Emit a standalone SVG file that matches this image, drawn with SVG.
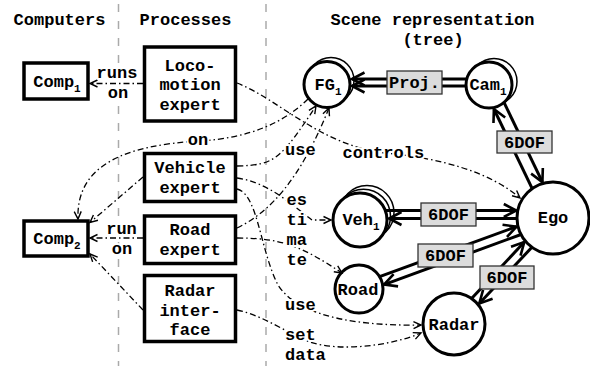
<svg xmlns="http://www.w3.org/2000/svg" width="590" height="366" viewBox="0 0 590 366">
  <style>
    text { font-family: "Liberation Mono", "DejaVu Sans Mono", monospace; font-size: 17px; font-weight: bold; fill: #000; }
    .sub { font-size: 11px; }
    .mid { text-anchor: middle; }
    .lbl { paint-order: stroke; stroke: #fff; stroke-width: 4px; stroke-linejoin: round; }
    .guide { stroke: #aaa; stroke-width: 1.5; stroke-dasharray: 8 9; fill: none; }
    .box { fill: #fff; stroke: #000; stroke-width: 3.5; }
    .node { fill: #fff; stroke: #000; stroke-width: 3; }
    .shadow { fill: #fff; stroke: #000; stroke-width: 1.5; }
    .dd { fill: none; stroke: #000; stroke-width: 1.3; stroke-dasharray: 6 3 1.5 3; marker-end: url(#thin); }
    .link { fill: none; stroke: #000; stroke-width: 3; marker-end: url(#thick); }
    .tag { fill: #dcdcdc; stroke: #333; stroke-width: 1.3; }
  </style>
  <defs>
    <marker id="thin" markerUnits="userSpaceOnUse" markerWidth="10" markerHeight="10" viewBox="0 0 10 10" refX="9" refY="5" orient="auto" overflow="visible">
      <path d="M1.5,1.5 L9,5 L1.5,8.5" fill="none" stroke="#000" stroke-width="1.4"/>
    </marker>
    <marker id="thick" markerUnits="userSpaceOnUse" markerWidth="16" markerHeight="16" viewBox="0 0 16 16" refX="14" refY="8" orient="auto" overflow="visible">
      <path d="M1.5,1.5 L14,8 L1.5,14.5" fill="none" stroke="#000" stroke-width="2.6"/>
    </marker>
  </defs>

  <rect width="590" height="366" fill="#fff"/>

  <!-- column separators -->
  <line class="guide" x1="118.5" y1="4" x2="118.5" y2="366"/>
  <line class="guide" x1="266" y1="4" x2="266" y2="366"/>

  <!-- column headings -->
  <text class="mid lbl" x="59.5" y="25">Computers</text>
  <text class="mid lbl" x="185.5" y="25">Processes</text>
  <text class="mid" x="432.5" y="25">Scene representation</text>
  <text class="mid" x="433" y="45">(tree)</text>

  <!-- computers -->
  <g id="comp1">
    <rect class="box" x="24" y="63" width="64" height="36"/>
    <text class="mid" x="57" y="87">Comp<tspan class="sub" dy="5">1</tspan></text>
  </g>
  <g id="comp2">
    <rect class="box" x="24" y="221" width="64" height="35"/>
    <text class="mid" x="57" y="244">Comp<tspan class="sub" dy="5">2</tspan></text>
  </g>

  <!-- processes -->
  <g id="locomotion-expert">
    <rect class="box" x="144.5" y="47" width="91" height="74"/>
    <text class="mid" x="190" y="70.5">Loco-</text>
    <text class="mid" x="190" y="90">motion</text>
    <text class="mid" x="190" y="109.5">expert</text>
  </g>
  <g id="vehicle-expert">
    <rect class="box" x="144.5" y="153.5" width="91" height="48"/>
    <text class="mid" x="190" y="173">Vehicle</text>
    <text class="mid" x="190" y="192.5">expert</text>
  </g>
  <g id="road-expert">
    <rect class="box" x="144.5" y="216" width="91" height="47.5"/>
    <text class="mid" x="190" y="235">Road</text>
    <text class="mid" x="190" y="255">expert</text>
  </g>
  <g id="radar-interface">
    <rect class="box" x="144.5" y="275.5" width="91" height="66"/>
    <text class="mid" x="190" y="295.5">Radar</text>
    <text class="mid" x="190" y="315.5">inter-</text>
    <text class="mid" x="190" y="335">face</text>
  </g>

  <!-- scene tree -->
  <g id="fg1">
    <circle class="shadow" cx="331" cy="80.5" r="23"/>
    <circle class="node" cx="327" cy="84.5" r="23"/>
    <text class="mid" x="328" y="89.5">FG<tspan class="sub" dy="5">1</tspan></text>
  </g>
  <g id="cam1">
    <circle class="shadow" cx="494" cy="81.5" r="23"/>
    <circle class="node" cx="489" cy="85" r="23"/>
    <text class="mid" x="488" y="90">Cam<tspan class="sub" dy="5">1</tspan></text>
  </g>
  <g id="veh1">
    <circle class="shadow" cx="367" cy="212.5" r="27"/>
    <circle class="shadow" cx="363.5" cy="216.2" r="27"/>
    <circle class="node" cx="360" cy="220" r="27"/>
    <text class="mid" x="361" y="225">Veh<tspan class="sub" dy="5">1</tspan></text>
  </g>
  <g id="ego">
    <circle class="node" cx="553" cy="218" r="36"/>
    <text class="mid" x="553" y="223">Ego</text>
  </g>
  <g id="road">
    <circle class="node" cx="359" cy="289" r="24"/>
    <text class="mid" x="358" y="295">Road</text>
  </g>
  <g id="radar">
    <circle class="node" cx="454" cy="324" r="31"/>
    <text class="mid" x="454" y="330">Radar</text>
  </g>

  <!-- connectors -->
  <g id="connectors">
    <!-- process placement -->
    <path class="dd" d="M143,83.5 L90,83.5"/>
    <path class="dd" d="M143,238 L90,238"/>
    <path class="dd" d="M143,177 L90,222.5"/>
    <path class="dd" d="M143,310 L90,254"/>
    <path class="dd" d="M308,99 C285,122 250,138 200,141 C125,145 76,165 78,219"/>
    <!-- process to scene -->
    <path class="dd" d="M237,83 C280,100 320,145 385,153 C440,158 490,172 520,198"/>
    <path class="dd" d="M237,166 C275,165 280,160 316,106"/>
    <path class="dd" d="M237,228 C270,212 300,180 329,108"/>
    <path class="dd" d="M237,178 C268,182 292,205 312,220 L331,220"/>
    <path class="dd" d="M237,238 C280,238 300,245 342,273"/>
    <path class="dd" d="M237,189 C258,194 260,250 278,285 C300,320 370,326 421,325"/>
    <path class="dd" d="M237,310 C265,316 290,335 310,342 C340,352 390,346 421,333"/>
    <!-- scene tree links -->
    <path class="link" d="M466.8,79 L352,79"/>
    <path class="link" d="M466,86 L352,86"/>
    <path class="link" d="M504,102.4 L542.4,182.1"/>
    <path class="link" d="M532.2,188.6 L493.9,109"/>
    <path class="link" d="M386,210.5 L516.3,210.5"/>
    <path class="link" d="M517,218.5 L389,218.5"/>
    <path class="link" d="M379.6,276.7 L516.5,226.6"/>
    <path class="link" d="M521,234.5 L384.1,284.6"/>
    <path class="link" d="M471.6,298.5 L524.3,242.1"/>
    <path class="link" d="M531.9,247.2 L479.3,303.5"/>
  </g>

  <!-- connector labels -->
  <g id="labels">
    <rect class="tag" x="387" y="71" width="55" height="23"/>
    <text class="mid" x="414.5" y="88">Proj.</text>
    <rect class="tag" x="497" y="131" width="55" height="22"/>
    <text class="mid" x="524.5" y="147.5">6DOF</text>
    <rect class="tag" x="421" y="203" width="55" height="23"/>
    <text class="mid" x="448.5" y="220">6DOF</text>
    <rect class="tag" x="418" y="244" width="55" height="23"/>
    <text class="mid" x="445.5" y="261">6DOF</text>
    <rect class="tag" x="480" y="266" width="54" height="23"/>
    <text class="mid" x="507" y="283">6DOF</text>

    <text class="mid lbl" x="117" y="78">runs</text>
    <text class="mid lbl" x="118" y="98">on</text>
    <text class="mid lbl" x="121.5" y="233.5">run</text>
    <text class="mid lbl" x="122" y="254">on</text>
    <text class="mid lbl" x="198" y="145">on</text>
    <text class="lbl" x="342.5" y="158">controls</text>
    <text class="lbl" x="285" y="155">use</text>
    <text class="lbl" x="286.5" y="205">es</text>
    <text class="lbl" x="286.5" y="225">ti</text>
    <text class="lbl" x="286.5" y="245">ma</text>
    <text class="lbl" x="286.5" y="264.5">te</text>
    <text class="lbl" x="285" y="310">use</text>
    <text class="lbl" x="285" y="340">set</text>
    <text class="lbl" x="285" y="360">data</text>
  </g>
</svg>
